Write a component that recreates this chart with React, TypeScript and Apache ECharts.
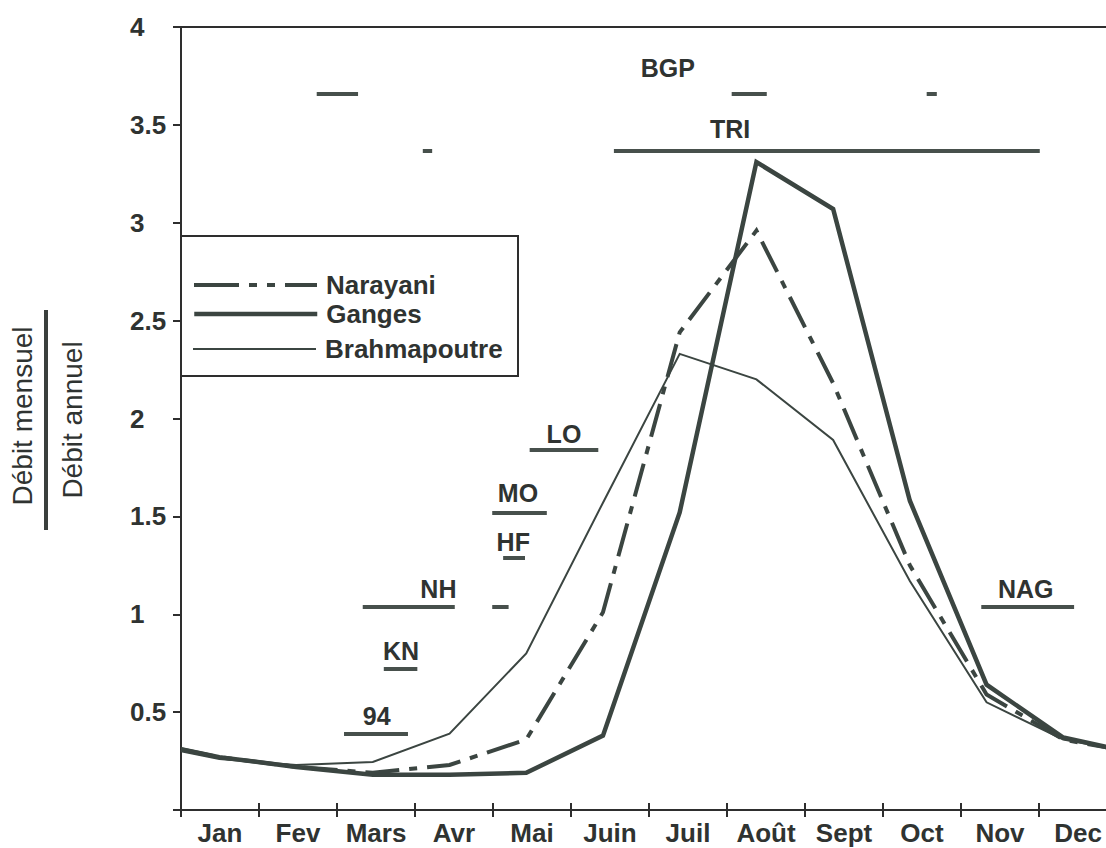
import { useEffect, useRef } from 'react';
import * as echarts from 'echarts';

// ---- data ----
const months = ['Jan', 'Fev', 'Mars', 'Avr', 'Mai', 'Juin', 'Juil', 'Août', 'Sept', 'Oct', 'Nov', 'Dec'];
const seriesNames = ['Narayani', 'Ganges', 'Brahmapoutre'];
const narayani = [0.27, 0.22, 0.19, 0.23, 0.36, 1.01, 2.44, 2.96, 2.18, 1.25, 0.59, 0.36];
const ganges = [0.27, 0.22, 0.18, 0.18, 0.19, 0.38, 1.52, 3.31, 3.07, 1.58, 0.64, 0.37];
const brahmapoutre = [0.26, 0.23, 0.245, 0.39, 0.8, 1.57, 2.33, 2.2, 1.89, 1.17, 0.55, 0.36];
// values where each curve meets the left / right edge of the plot
const edgeStart = [0.31, 0.31, 0.3];
const edgeEnd = [0.31, 0.31, 0.31];
const yLabels = ['', '0.5', '1', '1.5', '2', '2.5', '3', '3.5', '4'];

// period bars (in months from start of Jan) and their level
const periodStart = [1.74, 7.06, 9.56, 5.55, 3.1, 4.47, 3.99, 4.13, 2.33, 3.99, 2.6, 2.09, 10.26];
const periodEnd = [2.27, 7.51, 9.69, 11.01, 3.22, 5.35, 4.69, 4.41, 3.51, 4.2, 3.03, 2.91, 11.45];
const periodLevel = [3.66, 3.66, 3.66, 3.37, 3.37, 1.84, 1.52, 1.29, 1.036, 1.036, 0.72, 0.388, 1.036];

// station tags
const tagNames = ['BGP', 'TRI', 'LO', 'MO', 'HF', 'NH', 'KN', '94', 'NAG'];
const tagMonth = [6.24, 7.04, 4.91, 4.32, 4.26, 3.3, 2.82, 2.51, 10.83];
const tagLevel = [3.79, 3.48, 1.92, 1.62, 1.37, 1.13, 0.81, 0.48, 1.13];

const FONT = "'Liberation Sans', Arial, Helvetica, sans-serif";
const INK = '#2f3331';
const LINE = '#3b4541';
const CURVE_MIN = -0.5;
const CURVE_MAX = 11.7;
const lineWidths = [4, 4.5, 2];
const lineTypes: any[] = [[34, 10, 8, 10], 'solid', 'solid'];
const legendTypes: any[] = [[45, 10, 8, 10, 8, 10], 'solid', 'solid'];

export default function App() {
  const ref = useRef<HTMLDivElement>(null);

  useEffect(() => {
    if (!ref.current) return;
    const chart = echarts.init(ref.current, undefined, { renderer: 'svg' });

    const curve = (vals: number[], k: number) => [
      [CURVE_MIN, edgeStart[k]],
      ...vals.map((v, i) => [i, v]),
      [CURVE_MAX, edgeEnd[k]],
    ];

    const legendRows = [272, 301, 336];
    const curves = [narayani, ganges, brahmapoutre];

    chart.setOption({
      animation: false,
      backgroundColor: '#ffffff',
      textStyle: { fontFamily: FONT },
      grid: {
        left: 181,
        right: 23,
        top: 27,
        bottom: 38,
        show: true,
        borderColor: '#2e2e2e',
        borderWidth: 2,
        backgroundColor: 'transparent',
      },
      legend: seriesNames.map((n, i) => ({
        data: [n],
        orient: 'vertical',
        left: 192,
        top: legendRows[i],
        padding: 0,
        itemWidth: 123,
        itemHeight: 26,
        selectedMode: false,
        itemStyle: { opacity: 0 },
        lineStyle: { width: lineWidths[i], type: legendTypes[i], color: LINE },
        textStyle: {
          fontFamily: FONT,
          fontSize: 26,
          fontWeight: 'bold',
          color: INK,
          padding: [0, 0, 0, 4],
        },
      })),
      xAxis: [
        {
          type: 'category',
          data: months,
          position: 'bottom',
          boundaryGap: true,
          axisLine: { show: true, onZero: false, lineStyle: { color: '#2e2e2e', width: 2 } },
          axisTick: { show: true, interval: 0, length: 7, lineStyle: { color: '#2e2e2e', width: 2 } },
          axisLabel: {
            interval: 0,
            fontFamily: FONT,
            fontSize: 26,
            fontWeight: 'bold',
            color: INK,
            margin: 10,
          },
          splitLine: { show: false },
        },
        {
          type: 'category',
          data: months,
          position: 'bottom',
          boundaryGap: true,
          axisLine: { show: false, onZero: false },
          axisTick: { show: true, interval: 0, inside: true, length: 7, lineStyle: { color: '#2e2e2e', width: 2 } },
          axisLabel: { show: false },
          splitLine: { show: false },
        },
        { type: 'value', show: false, min: CURVE_MIN, max: CURVE_MAX, position: 'top', axisLine: { onZero: false } },
        { type: 'value', show: false, min: 0, max: 12, position: 'top', axisLine: { onZero: false } },
      ],
      yAxis: {
        type: 'value',
        min: 0,
        max: 4,
        interval: 0.5,
        axisLine: { show: true, onZero: false, lineStyle: { color: '#2e2e2e', width: 2 } },
        axisTick: { show: true, length: 8, lineStyle: { color: '#2e2e2e', width: 2 } },
        axisLabel: {
          fontFamily: FONT,
          fontSize: 26,
          fontWeight: 'bold',
          color: INK,
          align: 'left',
          margin: 51,
          formatter: (v: number) => yLabels[Math.round(v * 2)] ?? '',
        },
        splitLine: { show: false },
      },
      series: [
        ...seriesNames.map((n, k) => ({
          name: n,
          type: 'line',
          xAxisIndex: 2,
          data: curve(curves[k], k),
          symbol: 'none',
          lineStyle: { color: LINE, width: lineWidths[k], type: lineTypes[k], join: 'miter' },
          itemStyle: { color: LINE },
          z: [4, 3, 5][k],
        })),
        {
          name: 'periods',
          type: 'lines',
          coordinateSystem: 'cartesian2d',
          xAxisIndex: 3,
          yAxisIndex: 0,
          data: periodStart.map((s, i) => ({
            coords: [
              [s, periodLevel[i]],
              [periodEnd[i], periodLevel[i]],
            ],
          })),
          lineStyle: { color: '#47504c', width: 4, opacity: 1, curveness: 0 },
          silent: true,
          z: 2,
        },
        {
          name: 'tags',
          type: 'scatter',
          xAxisIndex: 3,
          yAxisIndex: 0,
          symbolSize: 1,
          itemStyle: { color: 'rgba(255,255,255,0)' },
          data: tagNames.map((n, i) => ({ name: n, value: [tagMonth[i], tagLevel[i]] })),
          label: {
            show: true,
            position: 'inside',
            formatter: '{b}',
            fontFamily: FONT,
            fontSize: 25,
            fontWeight: 'bold',
            color: INK,
            opacity: 1,
            textBorderWidth: 0,
          },
          emphasis: { disabled: true },
          silent: true,
          z: 6,
        },
      ],
      graphic: [
        {
          type: 'rect',
          shape: { x: 181, y: 236, width: 337, height: 140 },
          style: { fill: 'none', stroke: '#2e2e2e', lineWidth: 2 },
          z: 1,
        },
        {
          type: 'text',
          x: 22,
          y: 416,
          rotation: Math.PI / 2,
          style: {
            text: 'Débit mensuel',
            font: `28px ${FONT}`,
            fill: INK,
            align: 'center',
            verticalAlign: 'middle',
          },
        },
        {
          type: 'rect',
          shape: { x: 44, y: 310, width: 4, height: 220 },
          style: { fill: '#3a3f3d' },
        },
        {
          type: 'text',
          x: 72,
          y: 420,
          rotation: Math.PI / 2,
          style: {
            text: 'Débit annuel',
            font: `28px ${FONT}`,
            fill: INK,
            align: 'center',
            verticalAlign: 'middle',
          },
        },
      ],
    });

    return () => chart.dispose();
  }, []);

  return (
    <div style={{ position: 'fixed', left: 0, top: 0, width: 1106, height: 848, overflow: 'hidden', background: '#fff' }}>
      <div ref={ref} style={{ width: 1140, height: 848 }} />
    </div>
  );
}
